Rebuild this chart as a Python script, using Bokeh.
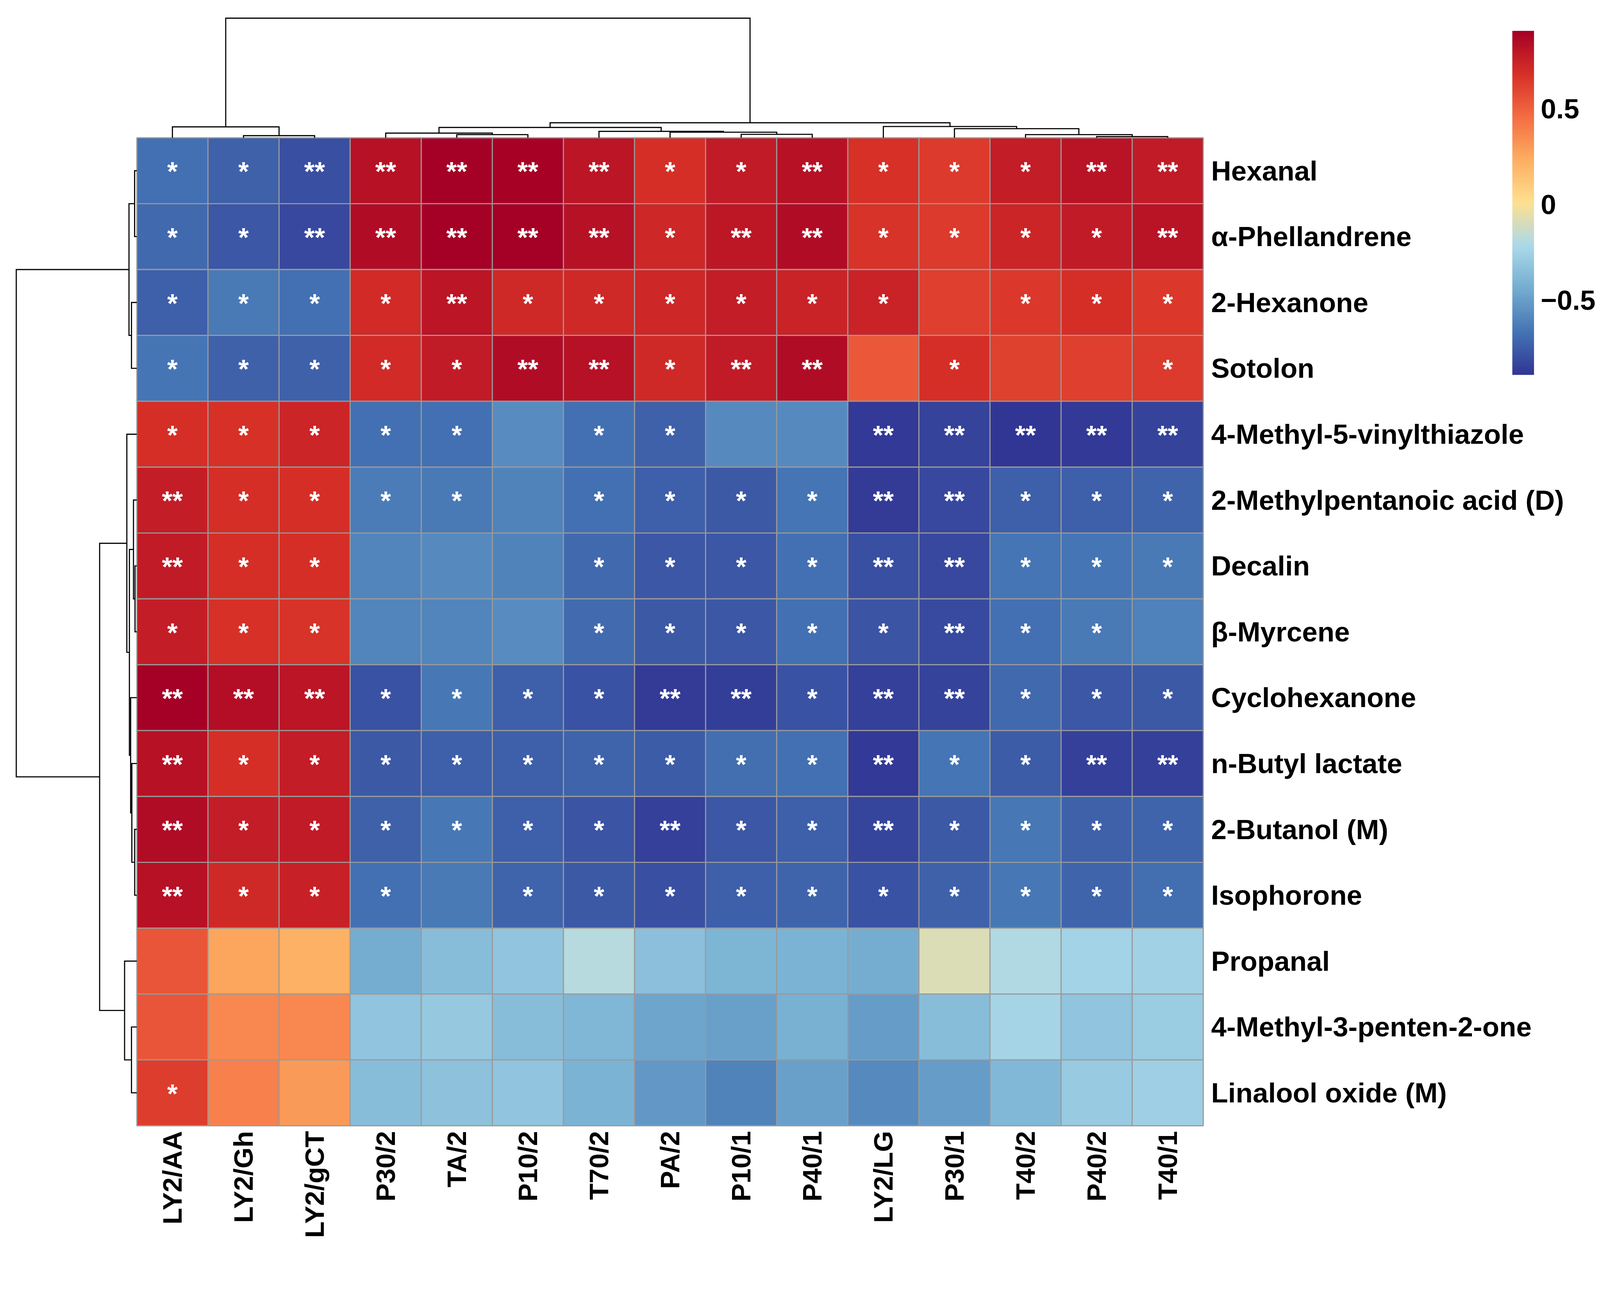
import numpy as np
from bokeh.plotting import figure
from bokeh.models import ColumnDataSource, LinearColorMapper
from bokeh.core.properties import value
from bokeh.embed import file_html
from bokeh.resources import INLINE

# ---------------- data ----------------
columns = ["LY2/AA", "LY2/Gh", "LY2/gCT", "P30/2", "TA/2", "P10/2", "T70/2", "PA/2",
           "P10/1", "P40/1", "LY2/LG", "P30/1", "T40/2", "P40/2", "T40/1"]
compounds = ["Hexanal", "α-Phellandrene", "2-Hexanone", "Sotolon",
             "4-Methyl-5-vinylthiazole", "2-Methylpentanoic acid (D)", "Decalin",
             "β-Myrcene", "Cyclohexanone", "n-Butyl lactate", "2-Butanol (M)",
             "Isophorone", "Propanal", "4-Methyl-3-penten-2-one", "Linalool oxide (M)"]

hexanal        = [-0.68, -0.73, -0.80, 0.82, 0.90, 0.89, 0.80, 0.69, 0.78, 0.82, 0.68, 0.64, 0.77, 0.81, 0.78]
phellandrene   = [-0.71, -0.77, -0.82, 0.85, 0.90, 0.90, 0.82, 0.72, 0.79, 0.85, 0.67, 0.64, 0.73, 0.78, 0.81]
hexanone       = [-0.74, -0.64, -0.68, 0.70, 0.80, 0.71, 0.71, 0.72, 0.77, 0.74, 0.74, 0.62, 0.65, 0.69, 0.65]
sotolon        = [-0.66, -0.73, -0.73, 0.70, 0.78, 0.85, 0.82, 0.71, 0.78, 0.85, 0.53, 0.69, 0.61, 0.62, 0.64]
vinylthiazole  = [0.69, 0.68, 0.73, -0.68, -0.68, -0.57, -0.68, -0.73, -0.58, -0.58, -0.88, -0.84, -0.89, -0.88, -0.84]
methylpentanoic = [0.77, 0.69, 0.69, -0.63, -0.64, -0.61, -0.68, -0.74, -0.76, -0.66, -0.87, -0.82, -0.74, -0.74, -0.72]
decalin        = [0.78, 0.69, 0.69, -0.60, -0.58, -0.61, -0.71, -0.77, -0.77, -0.68, -0.80, -0.82, -0.66, -0.66, -0.64]
myrcene        = [0.77, 0.68, 0.67, -0.60, -0.60, -0.57, -0.70, -0.76, -0.77, -0.68, -0.78, -0.81, -0.68, -0.64, -0.62]
cyclohexanone  = [0.90, 0.84, 0.80, -0.79, -0.65, -0.74, -0.79, -0.87, -0.86, -0.79, -0.85, -0.84, -0.71, -0.77, -0.76]
butyl_lactate  = [0.82, 0.69, 0.77, -0.76, -0.74, -0.74, -0.72, -0.75, -0.69, -0.68, -0.88, -0.66, -0.75, -0.85, -0.85]
butanol        = [0.85, 0.77, 0.78, -0.73, -0.65, -0.74, -0.78, -0.85, -0.77, -0.74, -0.83, -0.76, -0.65, -0.73, -0.72]
isophorone     = [0.82, 0.71, 0.75, -0.68, -0.64, -0.72, -0.76, -0.80, -0.74, -0.72, -0.79, -0.73, -0.65, -0.72, -0.69]
propanal       = [0.54, 0.26, 0.22, -0.44, -0.36, -0.32, -0.185, -0.35, -0.40, -0.41, -0.44, -0.09, -0.20, -0.245, -0.255]
pentenone      = [0.54, 0.36, 0.36, -0.32, -0.30, -0.36, -0.39, -0.47, -0.49, -0.42, -0.51, -0.36, -0.24, -0.32, -0.28]
linalool_oxide = [0.63, 0.39, 0.30, -0.36, -0.34, -0.32, -0.41, -0.53, -0.61, -0.49, -0.58, -0.51, -0.38, -0.29, -0.27]

sig_hexanal        = ["*", "*", "**", "**", "**", "**", "**", "*", "*", "**", "*", "*", "*", "**", "**"]
sig_phellandrene   = ["*", "*", "**", "**", "**", "**", "**", "*", "**", "**", "*", "*", "*", "*", "**"]
sig_hexanone       = ["*", "*", "*", "*", "**", "*", "*", "*", "*", "*", "*", "", "*", "*", "*"]
sig_sotolon        = ["*", "*", "*", "*", "*", "**", "**", "*", "**", "**", "", "*", "", "", "*"]
sig_vinylthiazole  = ["*", "*", "*", "*", "*", "", "*", "*", "", "", "**", "**", "**", "**", "**"]
sig_methylpentanoic = ["**", "*", "*", "*", "*", "", "*", "*", "*", "*", "**", "**", "*", "*", "*"]
sig_decalin        = ["**", "*", "*", "", "", "", "*", "*", "*", "*", "**", "**", "*", "*", "*"]
sig_myrcene        = ["*", "*", "*", "", "", "", "*", "*", "*", "*", "*", "**", "*", "*", ""]
sig_cyclohexanone  = ["**", "**", "**", "*", "*", "*", "*", "**", "**", "*", "**", "**", "*", "*", "*"]
sig_butyl_lactate  = ["**", "*", "*", "*", "*", "*", "*", "*", "*", "*", "**", "*", "*", "**", "**"]
sig_butanol        = ["**", "*", "*", "*", "*", "*", "*", "**", "*", "*", "**", "*", "*", "*", "*"]
sig_isophorone     = ["**", "*", "*", "*", "", "*", "*", "*", "*", "*", "*", "*", "*", "*", "*"]
sig_propanal       = [""] * 15
sig_pentenone      = [""] * 15
sig_linalool_oxide = ["*"] + [""] * 14

# column dendrogram merges (leaf ids 0..14, new nodes 15..)
col_merge_a = [1, 0, 4, 3, 8, 7, 6, 18, 13, 12, 11, 10, 22, 16]
col_merge_b = [2, 15, 5, 17, 9, 19, 20, 21, 14, 23, 24, 25, 26, 27]
col_merge_h = [2.1, 10.7, 3.1, 4.6, 3.4, 5.5, 6.3, 10.1, 1.2, 3.1, 8.9, 11.0, 14.7, 116.8]
# row dendrogram merges (rows top->bottom 0..14, new nodes 15..)
row_merge_a = [0, 2, 15, 6, 5, 10, 9, 8, 19, 4, 13, 12, 24, 17]
row_merge_b = [1, 3, 16, 7, 18, 11, 20, 21, 22, 23, 14, 25, 26, 27]
row_merge_h = [2.2, 5.25, 7.7, 1.8, 3.3, 2.1, 4.9, 6.1, 7.3, 9.8, 5.25, 12.0, 36.4, 117.9]

vmin, vmax = -0.89, 0.906
cb_ticks = [-0.5, 0.0, 0.5]
cb_labels = ["\u22120.5", "0", "0.5"]

values = [hexanal, phellandrene, hexanone, sotolon, vinylthiazole, methylpentanoic,
          decalin, myrcene, cyclohexanone, butyl_lactate, butanol, isophorone,
          propanal, pentenone, linalool_oxide]
sigs = [sig_hexanal, sig_phellandrene, sig_hexanone, sig_sotolon, sig_vinylthiazole,
        sig_methylpentanoic, sig_decalin, sig_myrcene, sig_cyclohexanone,
        sig_butyl_lactate, sig_butanol, sig_isophorone, sig_propanal, sig_pentenone,
        sig_linalool_oxide]

# ---------------- palette ----------------
anchors = ["#313695", "#4575B4", "#74ADD1", "#ABD9E9", "#FEE090",
           "#FDAE61", "#F46D43", "#D73027", "#A50026"]
def hex2rgb(h):
    h = h.lstrip("#")
    return [int(h[i:i + 2], 16) for i in (0, 2, 4)]
arr = np.array([hex2rgb(c) for c in anchors], dtype=float)
t = np.linspace(0, len(anchors) - 1, 200)
pal = []
for tv in t:
    i = min(int(np.floor(tv)), len(anchors) - 2)
    f = tv - i
    c = arr[i] * (1 - f) + arr[i + 1] * f
    pal.append("#%02x%02x%02x" % tuple(int(round(v)) for v in c))
mapper = LinearColorMapper(palette=pal, low=vmin, high=vmax)

# ---------------- layout (reference pixels scaled to visible area) ----------------
S = 4096.0 / 4279.0
def R(v):            # reference size -> page size
    return v * S

W, H = 4090, 3185
nC, nR = len(columns), len(compounds)
PXC, PXR = R(190.13), R(176.13)
heat_left_px, heat_top_px = R(365.5), R(368.0)
x_start = -heat_left_px / PXC
x_end = x_start + W / PXC
y_end = nR + heat_top_px / PXR
y_start = y_end - H / PXR
def fx(px):
    return x_start + px / PXC
def fy(py):
    return y_end - py / PXR

p = figure(width=W, height=H, x_range=(x_start, x_end), y_range=(y_start, y_end),
           output_backend="svg", toolbar_location=None, min_border=0,
           x_axis_location=None, y_axis_location=None)
p.grid.visible = False
p.outline_line_color = None
p.background_fill_color = "white"
p.border_fill_color = "white"

FONT = value("Liberation Sans")
def fs(v):
    return "%dpx" % round(R(v))

# cells
xs, ys, vs, ss = [], [], [], []
for i in range(nR):
    for j in range(nC):
        xs.append(j + 0.5)
        ys.append(nR - i - 0.5)
        vs.append(values[i][j])
        ss.append(sigs[i][j])
src = ColumnDataSource(dict(x=xs, y=ys, v=vs, s=ss))
p.rect(x="x", y="y", width=1, height=1, source=src,
       fill_color={"field": "v", "transform": mapper},
       line_color="#9a9a9a", line_width=R(3))
p.text(x="x", y="y", text="s", source=src, text_color="white",
       text_font=FONT, text_font_size=fs(72), text_font_style="bold",
       text_align="center", text_baseline="middle", y_offset=R(2))

# row labels
p.text(x=[nC] * nR, y=[nR - i - 0.5 for i in range(nR)], text=compounds,
       x_offset=R(21), text_font=FONT, text_font_size=fs(74), text_font_style="bold",
       text_align="left", text_baseline="middle", text_color="black")
# column labels
p.text(x=[j + 0.5 for j in range(nC)], y=[0] * nC, text=columns,
       y_offset=R(14), angle=np.pi / 2, text_font=FONT, text_font_size=fs(72),
       text_font_style="bold", text_align="right", text_baseline="middle",
       text_color="black")

# dendrograms
def dendro(ma, mb, mh, n):
    pos = {k: k + 0.5 for k in range(n)}
    hts = {k: 0.0 for k in range(n)}
    paths = []
    for k, (a, b, h) in enumerate(zip(ma, mb, mh)):
        pa, pb = pos[a], pos[b]
        paths.append(([pa, pa, pb, pb], [hts[a], h, h, hts[b]]))
        pos[n + k] = (pa + pb) / 2
        hts[n + k] = h
    return paths

top_scale = (R(320.0) / PXR) / max(col_merge_h)
cx, cy = [], []
for pp, hh in dendro(col_merge_a, col_merge_b, col_merge_h, nC):
    cx.append(pp)
    cy.append([nR + h * top_scale for h in hh])
p.multi_line(xs=cx, ys=cy, line_color="black", line_width=R(3), line_join="miter")

left_scale = (R(322.5) / PXC) / max(row_merge_h)
rx, ry = [], []
for pp, hh in dendro(row_merge_a, row_merge_b, row_merge_h, nR):
    ry.append([nR - q for q in pp])
    rx.append([-h * left_scale for h in hh])
p.multi_line(xs=rx, ys=ry, line_color="black", line_width=R(3), line_join="miter")

# colour bar
cb_x0, cb_w = fx(R(4044)), R(58) / PXC
cb_y0, cb_h = fy(R(1002)), R(920) / PXR
grad = np.linspace(vmin, vmax, 400).reshape(400, 1)
p.image(image=[grad], x=cb_x0, y=cb_y0, dw=cb_w, dh=cb_h, color_mapper=mapper)
tick_y = [cb_y0 + (tv - vmin) / (vmax - vmin) * cb_h for tv in cb_ticks]
p.text(x=[fx(R(4120))] * len(cb_ticks), y=tick_y, text=cb_labels, text_font=FONT,
       text_font_size=fs(74), text_font_style="bold", text_align="left",
       text_baseline="middle", text_color="black")

open("out.html", "w").write(file_html(p, INLINE))
